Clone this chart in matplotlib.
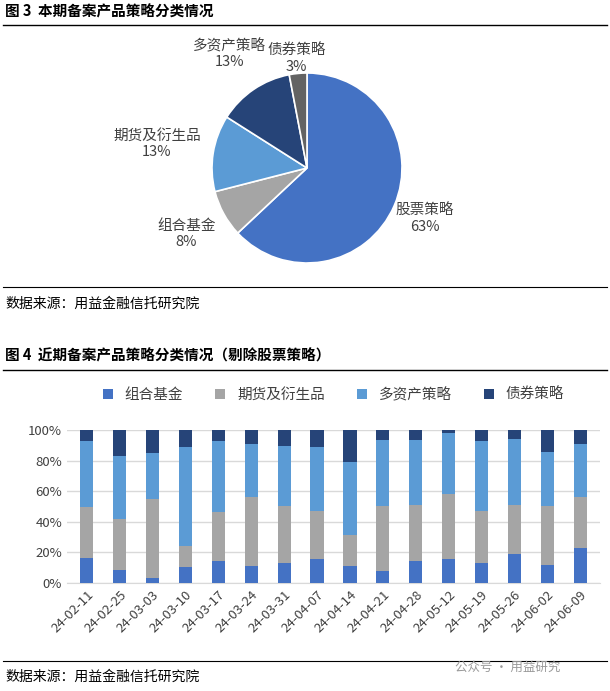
import numpy as np
import matplotlib.pyplot as plt
from matplotlib.lines import Line2D

plt.rcParams['font.family'] = ['Noto Sans CJK SC', 'DejaVu Sans']

# pie data
pie_labels = ['股票策略', '组合基金', '期货及衍生品', '多资产策略', '债券策略']
pie_values = [63, 8, 13, 13, 3]
pie_colors = ['#4472C4', '#A5A5A5', '#5B9BD5', '#264478', '#636363']

# bar data
dates = ['24-02-11', '24-02-25', '24-03-03', '24-03-10', '24-03-17', '24-03-24', '24-03-31', '24-04-07',
         '24-04-14', '24-04-21', '24-04-28', '24-05-12', '24-05-19', '24-05-26', '24-06-02', '24-06-09']
fof = [16.2, 8.4, 3.2, 10.4, 14.3, 11.0, 13.0, 15.6, 11.0, 7.8, 14.3, 15.6, 13.0, 18.8, 11.7, 22.7]
fut_cum = [50.0, 41.6, 55.2, 24.0, 46.1, 56.5, 50.6, 46.8, 31.2, 50.6, 51.3, 58.4, 46.8, 51.3, 50.6, 56.5]
multi_cum = [92.9, 83.1, 85.1, 89.0, 92.9, 90.9, 89.6, 89.0, 79.2, 93.5, 93.5, 98.0, 92.9, 94.2, 85.7, 90.9]
futures = [c - f for c, f in zip(fut_cum, fof)]
multi = [m - c for m, c in zip(multi_cum, fut_cum)]
bond = [100 - m for m in multi_cum]
bar_names = ['组合基金', '期货及衍生品', '多资产策略', '债券策略']
bar_colors = ['#4472C4', '#A5A5A5', '#5B9BD5', '#264478']

W, H = 610, 691
fig = plt.figure(figsize=(W / 100, H / 100), dpi=100)

def hline(y, lw=1.0):
    fig.add_artist(Line2D([0.005, 0.995], [1 - y / H, 1 - y / H], color='black', lw=lw))

def ftext(x, y, s, **kw):
    fig.text(x / W, 1 - y / H, s, va='center', **kw)

ftext(5, 12, '图 3  本期备案产品策略分类情况', fontsize=10.5, fontweight='bold')
hline(25)
hline(287, 0.8)
ftext(5, 304, '数据来源：用益金融信托研究院', fontsize=10)
ftext(5, 356, '图 4  近期备案产品策略分类情况（剔除股票策略）', fontsize=10.5, fontweight='bold')
hline(370)
hline(661, 0.8)
ftext(5, 677, '数据来源：用益金融信托研究院', fontsize=10)
ftext(455, 667, '公众号 · 用益研究', fontsize=9, color='#999999')

# pie
axp = fig.add_axes([212 / W, 1 - 263 / H, 190 / W, 190 / H])
wedges, _ = axp.pie(pie_values, colors=pie_colors, startangle=90, counterclock=False,
                    wedgeprops=dict(edgecolor='white', linewidth=1.2))
label_dist = [1.35, 1.45, 1.6, 1.45, 1.15]
for w, name, v, d in zip(wedges, pie_labels, pie_values, label_dist):
    ang = np.deg2rad((w.theta1 + w.theta2) / 2)
    axp.text(d * np.cos(ang), d * np.sin(ang), f'{name}\n{v}%', ha='center', va='center',
             fontsize=10.5, color='#404040', linespacing=1.2)
axp.set_xlim(-1, 1)
axp.set_ylim(-1, 1)
axp.set_aspect('equal')

# stacked bars
axb = fig.add_axes([67 / W, 1 - 583 / H, 533 / W, 153 / H])
x = np.arange(len(dates))
bottom = np.zeros(len(dates))
for vals, name, col in zip([fof, futures, multi, bond], bar_names, bar_colors):
    axb.bar(x, vals, 0.4, bottom=bottom, color=col, label=name, zorder=3)
    bottom += np.array(vals)
axb.set_xlim(-0.6, len(dates) - 0.4)
axb.set_ylim(0, 100)
axb.set_yticks(range(0, 101, 20))
axb.set_yticklabels([f'{v}%' for v in range(0, 101, 20)], fontsize=9.5, color='#404040')
axb.set_xticks(x)
axb.set_xticklabels(dates, rotation=45, ha='right', rotation_mode='anchor', fontsize=9.5, color='#404040')
axb.grid(axis='y', color='#D9D9D9', lw=1, zorder=0)
for s in ['top', 'right', 'left']:
    axb.spines[s].set_visible(False)
axb.spines['bottom'].set_color('#D9D9D9')
axb.tick_params(axis='y', length=0)
axb.tick_params(axis='x', length=0, pad=4)
axb.legend(loc='center', bbox_to_anchor=(0.5, 1 + 35 / 153), ncol=4, frameon=False, fontsize=10.5,
           handlelength=0.7, handleheight=0.7, columnspacing=2.2, labelcolor='#404040')

fig.savefig('out.png', dpi=100)
